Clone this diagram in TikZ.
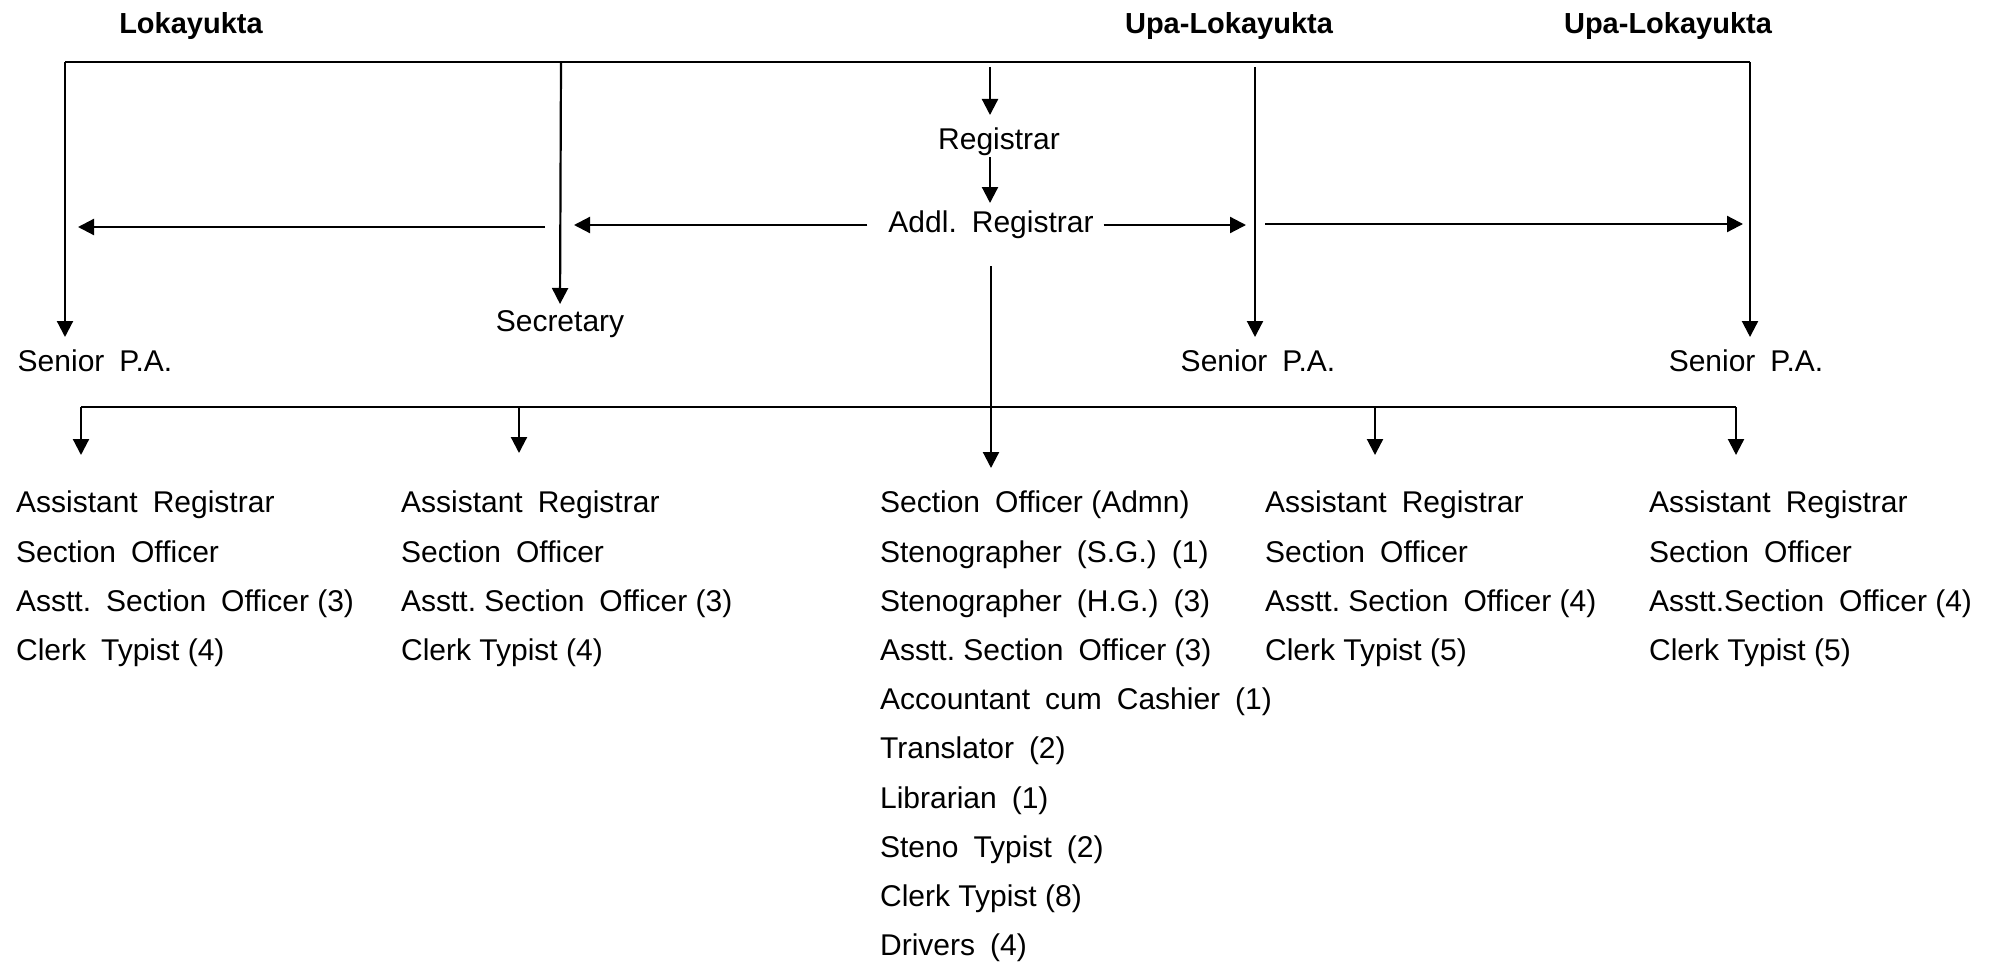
\documentclass[tikz,border=0pt]{standalone}
\usepackage{fontspec}
\setmainfont{Liberation Sans}
\usetikzlibrary{arrows.meta}
\frenchspacing
\newcommand{\ws}{\hspace{0.5em}}

\tikzset{every picture/.style={line width=1.1pt}}
\tikzset{
  post/.style={inner sep=0pt, text height=10.7pt, text depth=3.2pt, font=\fontsize{15}{18}\selectfont},
  head/.style={post, font=\fontsize{14.5}{18}\selectfont\bfseries},
  staff/.style={anchor=north west, inner sep=0pt, align=left, font=\fontsize{15}{24.6}\selectfont},
  arr/.style={-{Triangle[length=8pt,width=8pt]}, shorten >=6pt},
}

\begin{document}
\begin{tikzpicture}[x=0.5pt,y=0.5pt,yscale=-1,xscale=1]
\useasboundingbox (0,0) rectangle (1995,963);

% Text Node
\draw (191,26) node [head] (lok) {Lokayukta};
% Text Node
\draw (1229,26) node [head] (upa1) {Upa-Lokayukta};
% Text Node
\draw (1668,26) node [head] (upa2) {Upa-Lokayukta};
% Text Node
\draw (999,142) node [post] (reg) {Registrar};
% Text Node
\draw (991,225) node [post] (addl) {Addl.\ws Registrar};
% Text Node
\draw (560,324) node [post] (sec) {Secretary};
% Text Node
\draw (95,364) node [post] (spa1) {Senior\ws P.A.};
% Text Node
\draw (1258,364) node [post] (spa2) {Senior\ws P.A.};
% Text Node
\draw (1746,364) node [post] (spa3) {Senior\ws P.A.};

% Text Node
\draw (15,490) node [staff] (staff1) {Assistant\ws Registrar\\
Section\ws Officer\\
Asstt.\ws Section\ws Officer (3)\\
Clerk\ws Typist (4)};
% Text Node
\draw (400,490) node [staff] (staff2) {Assistant\ws Registrar\\
Section\ws Officer\\
Asstt. Section\ws Officer (3)\\
Clerk Typist (4)};
% Text Node
\draw (879,490) node [staff] (staff3) {Section\ws Officer (Admn)\\
Stenographer\ws (S.G.)\ws (1)\\
Stenographer\ws (H.G.)\ws (3)\\
Asstt. Section\ws Officer (3)\\
Accountant\ws cum\ws Cashier\ws (1)\\
Translator\ws (2)\\
Librarian\ws (1)\\
Steno\ws Typist\ws (2)\\
Clerk Typist (8)\\
Drivers\ws (4)};
% Text Node
\draw (1264,490) node [staff] (staff4) {Assistant\ws Registrar\\
Section\ws Officer\\
Asstt. Section\ws Officer (4)\\
Clerk Typist (5)};
% Text Node
\draw (1648,490) node [staff] (staff5) {Assistant\ws Registrar\\
Section\ws Officer\\
Asstt.Section\ws Officer (4)\\
Clerk Typist (5)};

\coordinate (t1) at (65,62);
\coordinate (t2) at (561,62);
\coordinate (t3) at (990,67);
\coordinate (t4) at (1255,67);
\coordinate (t5) at (1750,62);

%Straight Lines
\draw (t1) -- (t5);
\draw [arr] (t1) -- (t1 |- spa1.north);
\draw [arr, shorten >=2.5pt] (t2) -- (sec.north);
\draw [arr] (t3) -- (t3 |- reg.north);
\draw [arr, shorten >=3.5pt] (t3 |- reg.south) -- (t3 |- addl.north);
\draw [arr] (t4) -- (t4 |- spa2.north);
\draw [arr] (t5) -- (t5 |- spa3.north);

\coordinate (h1) at (574,224);
\coordinate (h2) at (545,227);
\coordinate (h3) at (78,227);
\coordinate (h4) at (1246,224);
\coordinate (h5) at (1265,224);
\coordinate (h6) at (1743,224);

%Straight Lines
\draw [arr, shorten >=0pt, shorten <=10pt] (addl.west) -- (h1 |- addl.west);
\draw [arr, shorten >=0pt] (h2) -- (h3);
\draw [arr, shorten >=0pt, shorten <=4.5pt] (addl.east) -- (h4 |- addl.east);
\draw [arr, shorten >=0pt] (h5) -- (h6);

\coordinate (b1) at (81,407);
\coordinate (b2) at (519,407);
\coordinate (b4) at (1375,407);
\coordinate (b5) at (1736,407);

%Straight Lines
\draw (b1) -- (b5);
\draw [arr, shorten <=13pt, shorten >=11pt] (addl.south) -- (addl.south |- staff3.north);
\draw [arr, shorten >=17.5pt] (b1) -- (b1 |- staff1.north);
\draw [arr, shorten >=18.5pt] (b2) -- (b2 |- staff2.north);
\draw [arr, shorten >=17.5pt] (b4) -- (b4 |- staff4.north);
\draw [arr, shorten >=17.5pt] (b5) -- (b5 |- staff5.north);

\end{tikzpicture}
\end{document}
